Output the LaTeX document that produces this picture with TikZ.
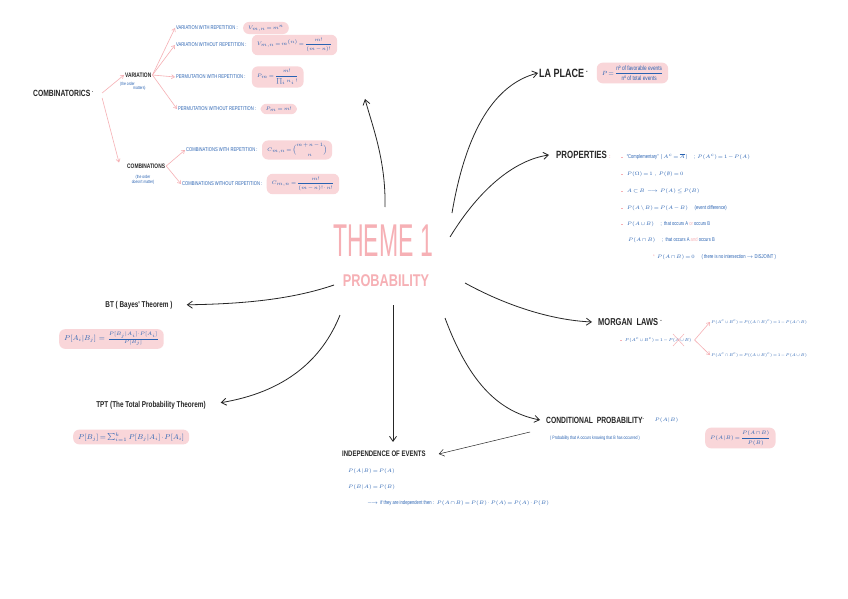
\documentclass[tikz,border=0pt]{standalone}
\usepackage{amsmath,amssymb}
\usepackage{fontspec}
\newfontfamily\handfont[FakeStretch=0.75]{Liberation Sans}
\newfontfamily\titlefont[FakeStretch=0.5]{Liberation Sans}
\usetikzlibrary{arrows.meta,positioning,calc}
\definecolor{mindPink}{RGB}{246,176,181}
\definecolor{mindLightPink}{RGB}{249,214,217}
\definecolor{mindBlue}{RGB}{40,98,178}
\newcommand{\pinkdot}{\textcolor{mindPink}{\rule[0.6pt]{1.6pt}{1.1pt}}\hspace{4pt}}
\thickmuskip=2.5mu plus 1mu
\medmuskip=1.5mu plus 1mu

\begin{document}
\begin{tikzpicture}[x=1pt,y=-1pt,
  heading/.style={font=\handfont\bfseries\fontsize{#1}{#1}\selectfont, text=black!85, inner sep=1pt},
  heading/.default=9,
  note/.style={font=\handfont\fontsize{#1}{#1}\selectfont, text=mindBlue, inner sep=1pt},
  note/.default=5.5,
  formula/.style={note=#1, fill=mindLightPink, rounded corners=6pt, inner xsep=5pt, inner ysep=3pt},
  formula/.default=5.5,
  link/.style={-{Straight Barb[length=5pt,width=7pt]}, line width=0.8pt, black!85},
  branch/.style={-{Straight Barb[length=3pt,width=4pt]}, line width=0.6pt, mindPink}
]
  \fill[white] (0,0) rectangle (848,599);
  \useasboundingbox (0,0) rectangle (848,599);

  % centre
  \node[font=\titlefont\fontsize{46}{46}\selectfont, text=mindPink, inner sep=0pt] (theme) at (383,241) {THEME 1};
  \node[font=\handfont\bfseries\fontsize{17}{17}\selectfont, text=mindPink, inner sep=0pt] (prob) at (386,281) {PROBABILITY};

  % combinatorics
  \node[heading, anchor=west] (comb) at (32,93) {COMBINATORICS \textsuperscript{.}};
  \node[heading=6.5, anchor=west] (var) at (124,75) {VARIATION};
  \node[note=4.5, align=left, anchor=north west] (varnote) at (119,81) {(the order\\\hspace{13pt}matters)};
  \node[heading=6.5, anchor=west] (combi) at (126,166) {COMBINATIONS};
  \node[note=4.5, align=center] (combinote) at (143,180) {(the order\\doesn't matter)};

  \node[note, anchor=west] (vwr) at (175,28) {VARIATION WITH REPETITION :};
  \node[note, anchor=west] (vwor) at (175,45) {VARIATION WITHOUT REPETITION :};
  \node[note, anchor=west] (pwr) at (175,77) {PERMUTATION WITH REPETITION :};
  \node[note, anchor=west] (pwor) at (177,109) {PERMUTATION WITHOUT REPETITION :};
  \node[note, anchor=west] (cwr) at (185,150) {COMBINATIONS WITH REPETITION :};
  \node[note, anchor=west] (cwor) at (181,184) {COMBINATIONS WITHOUT REPETITION :};

  \node[formula, right=4pt of vwr] (fvwr) {$V_{m,n} = m^{n}$};
  \node[formula, right=4pt of vwor] (fvwor) {$V_{m,n} = m^{(n)} = \dfrac{m!}{(m-n)!}$};
  \node[formula, right=5pt of pwr] (fpwr) {$P_{m} = \dfrac{m!}{\prod_{i} n_i\,!}$};
  \node[formula, right=3pt of pwor] (fpwor) {$P_m = m!$};
  \node[formula, right=3pt of cwr] (fcwr) {$C_{m,n} = \dbinom{m+n-1}{n}$};
  \node[formula, right=3pt of cwor] (fcwor) {$C_{m,n} = \dfrac{m!}{(m-n)!\cdot n!}$};

  \draw[branch] ([xshift=7pt]comb.east) -- (var.west);
  \draw[branch] ([xshift=7pt,yshift=-5pt]comb.east) -- ([xshift=-7pt]combi.north west);
  \draw[branch] (var.east) -- (vwr.west);
  \draw[branch] (var.east) -- (vwor.west);
  \draw[branch] (var.east) -- (pwr.west);
  \draw[branch] (var.east) -- (pwor.west);
  \draw[branch] (combi.east) -- (cwr.west);
  \draw[branch] (combi.east) -- (cwor.west);

  % la place
  \node[heading=12, anchor=west] (laplace) at (538,73) {LA PLACE\,\textsuperscript{.}};
  \node[formula=6.3, right=7pt of laplace] (flaplace) {$P = \dfrac{\text{nº of favorable events}}{\text{nº of total events}}$};

  % properties
  \node[heading=10.5, anchor=west] (props) at (555,155) {PROPERTIES \textcolor{mindPink}{\fontsize{6}{6}\selectfont :}};
  \node[note, anchor=west] (p1) at (620,157) {\pinkdot “Complementary” \ ( $A^c = \overline{A}$ ) \quad ; \ $P(A^c) = 1 - P(A)$};
  \node[note, anchor=west] (p2) at (620,174) {\pinkdot $P(\Omega) = 1$ \ , \ $P(\emptyset) = 0$};
  \node[note, anchor=west] (p3) at (620,191) {\pinkdot $A \subset B \ \longrightarrow\ P(A) \leq P(B)$};
  \node[note, anchor=west] (p4) at (620,208) {\pinkdot $P(A \setminus B) = P(A-B)$ \quad (event difference)};
  \node[note, anchor=west] (p5) at (620,224) {\pinkdot $P(A \cup B)$ \quad ; \ that occurs A \textcolor{mindPink}{or} occurs B};
  \node[note, anchor=west] (p6) at (627,240) {$P(A \cap B)$ \quad ; \ that occurs A \textcolor{mindPink}{and} occurs B};
  \node[note, anchor=west] (p7) at (652,257) {\textcolor{mindPink}{*}\ \ $P(A \cap B) = 0$ \quad ( there is no intersection $\rightarrow$ DISJOINT )};

  % morgan laws
  \node[heading=10, anchor=west] (morgan) at (597,322) {MORGAN\ \ LAWS \textsuperscript{.}};
  \node[note=5, anchor=west] (m0) at (619,340) {\scalebox{0.84}{\pinkdot $P(A^c \cup B^c) = 1 - P(A \cup B)$}};
  \node[note=5, anchor=west] (m1) at (710,322) {\scalebox{0.78}{$P(A^c \cup B^c) = P((A \cap B)^c) = 1 - P(A \cap B)$}};
  \node[note=5, anchor=west] (m2) at (710,355) {\scalebox{0.78}{$P(A^c \cap B^c) = P((A \cup B)^c) = 1 - P(A \cup B)$}};
  \draw[mindPink, line width=0.5pt] (673,334) -- (684,346) (673,346) -- (684,334);
  \draw[branch] ([xshift=2pt]m0.east) -- (m1.west);
  \draw[branch] ([xshift=2pt]m0.east) -- (m2.west);

  % conditional probability
  \node[heading=9, anchor=west] (cond) at (545,420) {CONDITIONAL\ \ PROBABILITY\textsuperscript{.}};
  \node[note, right=8pt of cond] (condp) {$P(A|B)$};
  \node[note=4.8, anchor=west] (condnote) at (549,438) {( Probability that A occurs knowing that B has occurred )};
  \node[formula, anchor=west] (fcond) at (705,438) {$P(A|B) = \dfrac{P(A\cap B)}{P(B)}$};

  % independence
  \node[heading=8, anchor=west] (indep) at (341,454) {INDEPENDENCE OF EVENTS};
  \node[note, anchor=west] (i1) at (347,471) {$P(A|B) = P(A)$};
  \node[note, anchor=west] (i2) at (347,487) {$P(B|A) = P(B)$};
  \node[note, anchor=west] (i3) at (366,503) {$\longrightarrow$ \ if they are independent then : \ $P(A\cap B) = P(B)\cdot P(A) = P(A)\cdot P(B)$};

  % bayes and total probability
  \node[heading=8.5] (bt) at (139,305) {BT ( Bayes' Theorem )};
  \node[formula=7, anchor=west] (fbt) at (59,339) {$P[A_i|B_j] \ = \ \frac{P[B_j|A_i]\cdot P[A_i]}{P[B_j]}$};
  \node[heading=8.5] (tpt) at (151,405) {TPT (The Total Probability Theorem)};
  \node[formula=7, anchor=west] (ftpt) at (73,437) {$P[B_j] = \sum_{i=1}^{k} P[B_j|A_i]\cdot P[A_i]$};

  % links from the centre
  \coordinate (c1) at (385,207);
  \coordinate (c2) at (452,213);
  \coordinate (c3) at (450,237);
  \coordinate (c4) at (465,283);
  \coordinate (c5) at (445,318);
  \coordinate (c6) at (393,305);
  \coordinate (c7) at (340,315);
  \coordinate (c8) at (334,285);
  \coordinate (combtip) at (365,99);

  \draw[link] (c1) .. controls (386,160) and (372,125) .. (combtip);
  \draw[link] (c2) .. controls (466,130) and (495,84) .. (laplace.west);
  \draw[link] (c3) .. controls (480,188) and (515,160) .. ([xshift=-6pt]props.west);
  \draw[link] (c4) .. controls (505,305) and (550,320) .. ([xshift=-5pt]morgan.west);
  \draw[link] (c5) .. controls (470,385) and (500,412) .. ([xshift=-5pt]cond.west);
  \draw[link, shorten >=8pt] (c6) -- (c6 |- indep.north);
  \draw[link, shorten >=14pt] (c7) .. controls (322,360) and (285,392) .. (tpt.east);
  \draw[link, shorten >=13pt] (c8) .. controls (290,300) and (240,304) .. (bt.east);
  \draw[link, line width=0.5pt] ([xshift=-15pt,yshift=-12pt]cond.west) -- ([xshift=12pt]indep.east);
\end{tikzpicture}
\end{document}
